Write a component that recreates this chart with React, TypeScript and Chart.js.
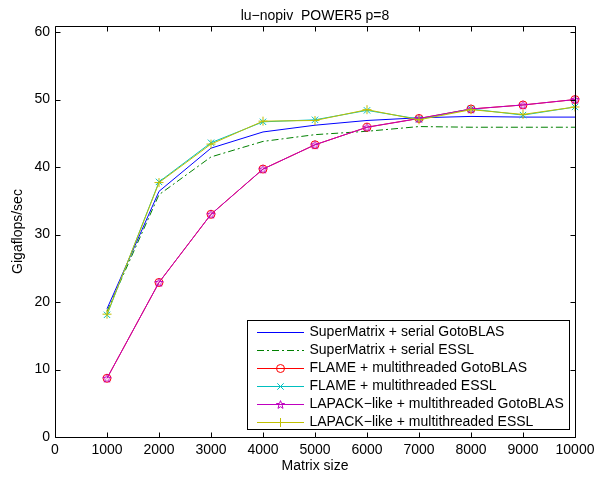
import React, { useEffect, useRef } from "react";
import { Chart, registerables } from "chart.js";

Chart.register(...registerables);

const matrixSizes = [1000, 2000, 3000, 4000, 5000, 6000, 7000, 8000, 9000, 10000];
const superGoto = [19.0, 36.4, 42.8, 45.2, 46.2, 46.9, 47.3, 47.5, 47.4, 47.4];
const superEssl = [18.6, 35.9, 41.5, 43.8, 44.8, 45.3, 46.0, 45.9, 45.9, 45.9];
const flameGoto = [8.7, 22.9, 33.0, 39.7, 43.3, 45.9, 47.2, 48.6, 49.2, 50.0];
const flameEssl = [18.1, 37.8, 43.6, 46.7, 47.0, 48.4, 47.1, 48.6, 47.7, 48.9];
const lapackGoto = [8.7, 22.9, 33.0, 39.7, 43.3, 45.9, 47.2, 48.6, 49.2, 50.0];
const lapackEssl = [18.2, 37.7, 43.4, 46.8, 46.9, 48.5, 47.0, 48.5, 47.8, 48.9];
const xTickValues = [0, 1000, 2000, 3000, 4000, 5000, 6000, 7000, 8000, 9000, 10000];
const yTickValues = [0, 10, 20, 30, 40, 50, 60];
const seriesLabels = [
  "SuperMatrix + serial GotoBLAS",
  "SuperMatrix + serial ESSL",
  "FLAME + multithreaded GotoBLAS",
  "FLAME + multithreaded ESSL",
  "LAPACK\u2212like + multithreaded GotoBLAS",
  "LAPACK\u2212like + multithreaded ESSL",
];
const titleText = "lu\u2212nopiv  POWER5 p=8";
const xTitle = "Matrix size";
const yTitle = "Gigaflops/sec";

const FAMILY = "'Liberation Sans', Arial, Helvetica, sans-serif";
const FONT = "14px " + FAMILY;

function makePentagram(color: string) {
  const c = document.createElement("canvas");
  const s = 11;
  c.width = s;
  c.height = s;
  const ctx = c.getContext("2d")!;
  ctx.strokeStyle = color;
  ctx.lineWidth = 1;
  const cx = s / 2, cy = s / 2 + 0.4;
  const R = 4.3, r = 1.8;
  ctx.beginPath();
  for (let i = 0; i < 10; i++) {
    const ang = -Math.PI / 2 + (i * Math.PI) / 5;
    const rad = i % 2 === 0 ? R : r;
    const x = cx + rad * Math.cos(ang);
    const y = cy + rad * Math.sin(ang);
    if (i === 0) ctx.moveTo(x, y);
    else ctx.lineTo(x, y);
  }
  ctx.closePath();
  ctx.stroke();
  return c;
}

export default function App() {
  const ref = useRef<HTMLCanvasElement>(null);
  useEffect(() => {
    const canvas = ref.current!;
    const star = makePentagram("rgb(191,0,191)");
    const colors = [
      "rgb(0,0,255)",
      "rgb(0,128,0)",
      "rgb(255,0,0)",
      "rgb(0,191,191)",
      "rgb(191,0,191)",
      "rgb(191,191,0)",
    ];
    const values = [superGoto, superEssl, flameGoto, flameEssl, lapackGoto, lapackEssl];
    const styles: any[] = [false, false, "circle", "crossRot", star, "cross"];
    const radii = [0, 0, 4, 4.5, 4, 4.5];
    const dashes = [[], [7, 3, 2, 3], [], [], [], []];
    const datasets = values.map((vals, i) => ({
      label: seriesLabels[i],
      data: vals.map((v, j) => ({ x: matrixSizes[j], y: v })),
      borderColor: colors[i],
      backgroundColor: "transparent",
      borderWidth: 1,
      borderDash: dashes[i],
      pointStyle: styles[i],
      pointRadius: radii[i],
      pointBorderColor: colors[i],
      pointBackgroundColor: "transparent",
      pointBorderWidth: 1,
      tension: 0,
      clip: false,
      order: 10 - i,
    }));

    const framePlugin = {
      id: "frame",
      afterDraw(chart: any) {
        const ctx = chart.ctx;
        const { left, right, top, bottom } = chart.chartArea;
        const xs = chart.scales.x;
        const ys = chart.scales.y;
        ctx.save();
        ctx.strokeStyle = "#000";
        ctx.lineWidth = 1;
        const L = Math.round(left) + 0.5, R = Math.round(right) + 0.5;
        const T = Math.round(top) + 0.5, B = Math.round(bottom) + 0.5;
        ctx.beginPath();
        ctx.rect(L, T, R - L, B - T);
        const tl = 5;
        xTickValues.forEach((v) => {
          const px = Math.round(xs.getPixelForValue(v)) + 0.5;
          ctx.moveTo(px, B);
          ctx.lineTo(px, B - tl);
          ctx.moveTo(px, T);
          ctx.lineTo(px, T + tl);
        });
        yTickValues.forEach((v) => {
          const py = Math.round(ys.getPixelForValue(v)) + 0.5;
          ctx.moveTo(L, py);
          ctx.lineTo(L + tl, py);
          ctx.moveTo(R, py);
          ctx.lineTo(R - tl, py);
        });
        ctx.stroke();

        // title
        ctx.fillStyle = "#000";
        ctx.font = FONT;
        ctx.textAlign = "center";
        ctx.textBaseline = "middle";
        ctx.fillText(titleText, (left + right) / 2, 16);

        // legend
        const lx = 247.5, ly = 320.5, lw = 322, lh = 109;
        ctx.fillStyle = "#fff";
        ctx.fillRect(lx, ly, lw, lh);
        ctx.strokeStyle = "#000";
        ctx.strokeRect(lx, ly, lw, lh);
        chart.data.datasets.forEach((ds: any, i: number) => {
          const y = ly + 11 + i * 18;
          ctx.save();
          ctx.strokeStyle = ds.borderColor;
          ctx.lineWidth = 1;
          ctx.setLineDash(ds.borderDash || []);
          ctx.beginPath();
          ctx.moveTo(257, Math.round(y) + 0.5);
          ctx.lineTo(304, Math.round(y) + 0.5);
          ctx.stroke();
          ctx.setLineDash([]);
          if (ds.pointStyle) {
            ctx.strokeStyle = ds.pointBorderColor;
            const mx = 280.5, my = Math.round(y) + 0.5;
            const st = ds.pointStyle;
            if (st === "circle") {
              ctx.beginPath();
              ctx.arc(mx, my, 4, 0, Math.PI * 2);
              ctx.stroke();
            } else if (st === "crossRot") {
              const d = 3.2;
              ctx.beginPath();
              ctx.moveTo(mx - d, my - d);
              ctx.lineTo(mx + d, my + d);
              ctx.moveTo(mx + d, my - d);
              ctx.lineTo(mx - d, my + d);
              ctx.stroke();
            } else if (st === "cross") {
              const d = 4.5;
              ctx.beginPath();
              ctx.moveTo(mx - d, my);
              ctx.lineTo(mx + d, my);
              ctx.moveTo(mx, my - d);
              ctx.lineTo(mx, my + d);
              ctx.stroke();
            } else {
              ctx.drawImage(st, mx - st.width / 2, my - st.height / 2);
            }
          }
          ctx.fillStyle = "#000";
          ctx.font = FONT;
          ctx.textAlign = "left";
          ctx.textBaseline = "middle";
          ctx.fillText(ds.label, 309.5, y + 0.5);
          ctx.restore();
        });
        ctx.restore();
      },
    };

    const chart = new Chart(canvas, {
      type: "line",
      data: { datasets: datasets as any },
      options: {
        animation: false,
        responsive: false,
        devicePixelRatio: 1,
        layout: { padding: { left: 0, top: 26, right: 33, bottom: 0 } },
        plugins: {
          legend: { display: false },
          title: { display: false },
          tooltip: { enabled: false },
        },
        scales: {
          x: {
            type: "linear",
            min: 0,
            max: 10000,
            afterFit: (s: any) => {
              s.height = 42;
            },
            afterBuildTicks: (s: any) => {
              s.ticks = xTickValues.map((v) => ({ value: v }));
            },
            grid: { display: false, drawTicks: false },
            border: { display: false },
            ticks: {
              padding: 5,
              maxRotation: 0,
              autoSkip: false,
              color: "#000",
              font: { family: FAMILY, size: 14 },
              callback: (v: any) => String(v),
            },
            title: {
              display: true,
              text: xTitle,
              color: "#000",
              padding: { top: 0, bottom: 4 },
              font: { family: FAMILY, size: 14 },
            },
          },
          y: {
            type: "linear",
            min: 0,
            max: 60.9,
            afterFit: (s: any) => {
              s.width = 55;
            },
            afterBuildTicks: (s: any) => {
              s.ticks = yTickValues.map((v) => ({ value: v }));
            },
            grid: { display: false, drawTicks: false },
            border: { display: false },
            ticks: {
              padding: 5,
              autoSkip: false,
              color: "#000",
              font: { family: FAMILY, size: 14 },
              callback: (v: any) => String(v),
            },
            title: {
              display: true,
              text: yTitle,
              color: "#000",
              padding: { top: 10, bottom: 0 },
              font: { family: FAMILY, size: 14 },
            },
          },
        },
      },
      plugins: [framePlugin],
    });
    return () => chart.destroy();
  }, []);

  return (
    <div style={{ position: "fixed", left: 0, top: 0, width: 608, height: 479, background: "#fff" }}>
      <canvas ref={ref} width={608} height={479} style={{ display: "block", width: 608, height: 479 }} />
    </div>
  );
}
